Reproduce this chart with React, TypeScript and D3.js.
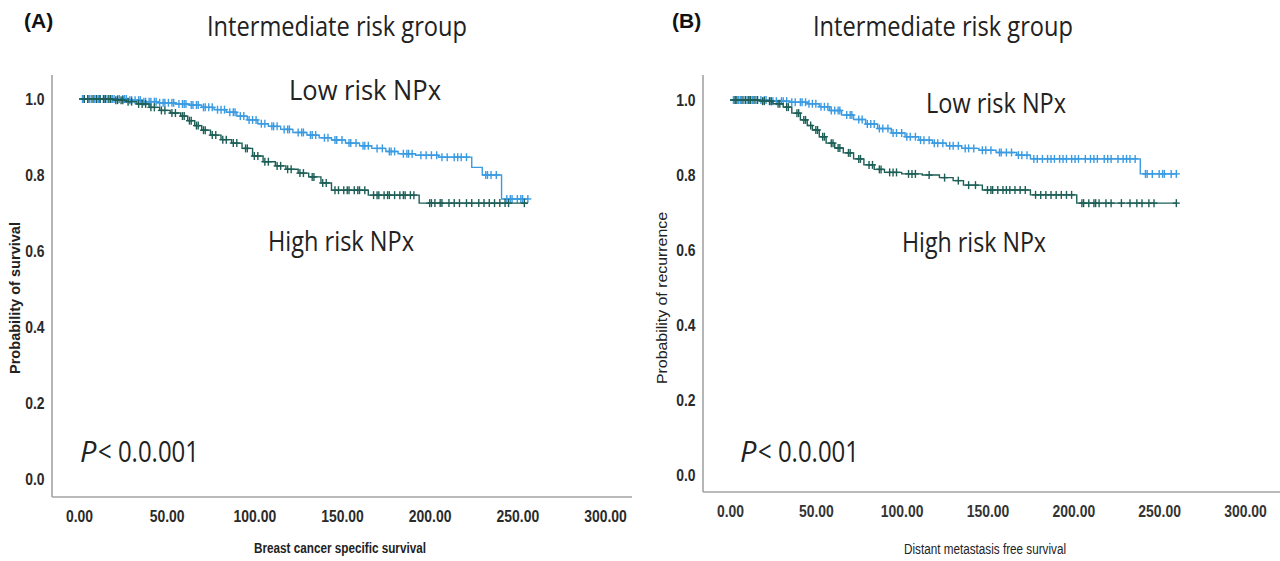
import React, { useEffect, useRef } from "react";
import * as d3 from "d3";

const xTicks = [0, 50, 100, 150, 200, 250, 300];
const yTicks = [0, 0.2, 0.4, 0.6, 0.8, 1.0];

// (A) breast cancer specific survival
const aLowTimes = [0, 28, 36, 45, 55, 63, 70, 77, 84, 90, 96, 102, 108, 115, 122, 130, 137, 144, 152, 160, 167, 175, 182, 192, 205, 224, 230, 241];
const aLowSurv = [1.0, 0.997, 0.993, 0.99, 0.987, 0.984, 0.978, 0.972, 0.965, 0.955, 0.945, 0.935, 0.928, 0.92, 0.912, 0.905, 0.898, 0.892, 0.884, 0.877, 0.87, 0.862, 0.856, 0.852, 0.847, 0.82, 0.80, 0.737];
const aLowCensor = [2, 3, 5, 6, 7, 9, 10, 11, 12, 14, 15, 16, 18, 19, 20, 22, 23, 25, 26, 27, 29, 30, 32, 34, 35, 37, 38, 40, 41, 43, 44, 46, 48, 49, 51, 53, 54, 57, 59, 60, 61, 64, 65, 67, 68, 71, 72, 74, 76, 79, 81, 83, 86, 88, 89, 92, 94, 97, 99, 101, 104, 106, 110, 111, 113, 117, 119, 120, 125, 127, 128, 132, 133, 135, 140, 142, 146, 147, 150, 154, 155, 158, 162, 163, 165, 170, 173, 177, 178, 180, 185, 187, 188, 190, 195, 198, 201, 204, 207, 210, 214, 216, 218, 221, 232, 233, 235, 238, 244, 246, 247, 250, 252, 253, 256];
const aLowEnd = 256;
const aHighTimes = [0, 20, 27, 33, 40, 46, 52, 58, 62, 66, 70, 75, 81, 87, 93, 99, 105, 112, 118, 125, 131, 138, 144, 165, 194];
const aHighSurv = [1.0, 0.997, 0.993, 0.987, 0.978, 0.97, 0.963, 0.955, 0.943, 0.93, 0.918, 0.905, 0.893, 0.884, 0.87, 0.85, 0.835, 0.824, 0.815, 0.805, 0.795, 0.779, 0.76, 0.747, 0.726];
const aHighCensor = [3, 5, 8, 10, 12, 14, 15, 17, 18, 21, 22, 24, 25, 28, 30, 34, 36, 38, 41, 43, 47, 49, 53, 55, 59, 60, 63, 64, 67, 68, 71, 72, 76, 78, 82, 84, 88, 90, 95, 96, 100, 102, 106, 108, 113, 115, 119, 121, 126, 128, 133, 134, 139, 141, 146, 148, 151, 153, 154, 157, 159, 160, 163, 168, 170, 171, 174, 176, 177, 180, 183, 185, 186, 189, 191, 200, 201, 203, 206, 207, 211, 214, 217, 221, 224, 228, 231, 234, 237, 240, 243, 245, 254];
const aHighEnd = 256;

// (B) distant metastasis free survival
const bLowTimes = [0, 22, 35, 45, 52, 58, 65, 72, 79, 86, 94, 102, 110, 118, 126, 135, 145, 155, 167, 175, 239];
const bLowSurv = [1.0, 0.997, 0.994, 0.99, 0.982, 0.972, 0.96, 0.948, 0.936, 0.924, 0.912, 0.902, 0.893, 0.885, 0.878, 0.871, 0.866, 0.86, 0.853, 0.843, 0.803];
const bLowCensor = [2, 3, 5, 6, 8, 10, 11, 13, 15, 16, 18, 20, 21, 24, 25, 27, 30, 31, 33, 36, 38, 41, 42, 44, 46, 48, 50, 53, 55, 57, 59, 61, 63, 64, 68, 70, 71, 75, 77, 80, 82, 84, 87, 89, 92, 95, 97, 100, 103, 105, 108, 111, 113, 116, 119, 121, 124, 128, 130, 133, 137, 139, 142, 147, 149, 152, 157, 158, 161, 164, 168, 170, 173, 177, 179, 182, 185, 187, 189, 192, 194, 196, 199, 201, 203, 207, 210, 212, 214, 218, 220, 222, 226, 229, 231, 233, 236, 242, 243, 246, 250, 252, 253, 257, 260];
const bLowEnd = 260;
const bHighTimes = [0, 17, 25, 31, 36, 41, 45, 48, 52, 56, 61, 66, 72, 78, 84, 90, 100, 112, 122, 130, 136, 147, 175, 202];
const bHighSurv = [1.0, 0.997, 0.99, 0.981, 0.965, 0.947, 0.932, 0.92, 0.902, 0.885, 0.872, 0.859, 0.843, 0.827, 0.815, 0.807, 0.803, 0.80, 0.793, 0.785, 0.773, 0.76, 0.747, 0.725];
const bHighCensor = [3, 4, 7, 9, 11, 12, 14, 16, 19, 20, 23, 24, 28, 29, 33, 34, 39, 40, 43, 44, 47, 50, 51, 54, 55, 59, 60, 63, 64, 69, 70, 75, 76, 81, 83, 87, 88, 93, 95, 97, 104, 106, 108, 116, 125, 133, 139, 143, 150, 152, 153, 156, 159, 161, 163, 166, 169, 172, 178, 181, 184, 187, 190, 193, 196, 199, 205, 206, 209, 212, 213, 215, 219, 222, 228, 233, 237, 240, 244, 247, 260];
const bHighEnd = 260;

const LOW_COLOR = "#3a9be2";
const HIGH_COLOR = "#1d5f57";
const AXIS_COLOR = "#a3a3a3";
const ARIAL = "'Liberation Sans', Arial, sans-serif";
const HUMAN = "'Open Sans', 'Noto Sans', sans-serif";
const NARROW_SCALE = 0.82;

const Panel = ({ cfg }) => {
  const gRef = useRef();

  useEffect(() => {
    const g = d3.select(gRef.current);
    g.selectAll("*").remove();

    const x = d3.scaleLinear().domain([0, 300]).range(cfg.xRange);
    const y = d3.scaleLinear().domain([0, 1]).range(cfg.yRange);

    // axis lines
    g.append("line")
      .attr("x1", cfg.axisLeft).attr("x2", cfg.axisLeft)
      .attr("y1", cfg.axisTop).attr("y2", cfg.axisBottom)
      .attr("stroke", AXIS_COLOR).attr("stroke-width", 1.6);
    g.append("line")
      .attr("x1", cfg.axisLeft).attr("x2", cfg.axisRight)
      .attr("y1", cfg.axisBottom).attr("y2", cfg.axisBottom)
      .attr("stroke", AXIS_COLOR).attr("stroke-width", 1.6);

    const xAxis = g.append("g")
      .attr("transform", `translate(0, ${cfg.axisBottom + 10})`)
      .call(d3.axisBottom(x).tickValues(xTicks).tickSize(0).tickFormat(d3.format(".2f")));
    xAxis.select(".domain").remove();
    xAxis.selectAll("text")
      .attr("font-family", ARIAL).attr("font-size", 17)
      .attr("font-weight", "bold")
      .attr("fill", cfg.boldLabels ? "#2a2a2a" : "#333")
      .attr("transform", `scale(${NARROW_SCALE},1)`);

    const yAxis = g.append("g")
      .attr("transform", `translate(${cfg.axisLeft - 5}, 0)`)
      .call(d3.axisLeft(y).tickValues(yTicks).tickSize(0).tickFormat(d3.format(".1f")));
    yAxis.select(".domain").remove();
    yAxis.selectAll("text")
      .attr("font-family", ARIAL).attr("font-size", 17)
      .attr("font-weight", "bold")
      .attr("fill", "#2a2a2a")
      .attr("transform", `scale(${NARROW_SCALE},1)`);

    const line = d3.line()
      .x((d) => x(d[0]))
      .y((d) => y(d[1]))
      .curve(d3.curveStepAfter);

    const drawGroup = (times, surv, censor, end, color) => {
      const pts = times.map((t, i) => [t, surv[i]]);
      pts.push([end, surv[surv.length - 1]]);
      g.append("path")
        .datum(pts)
        .attr("d", line)
        .attr("fill", "none")
        .attr("stroke", color)
        .attr("stroke-width", 1.4);
      const sAt = (t) => surv[Math.max(0, d3.bisectRight(times, t) - 1)];
      const marks = g.append("g").attr("stroke", color).attr("stroke-width", 1.4);
      censor.forEach((t) => {
        const cx = x(t);
        const cy = y(sAt(t));
        marks.append("line").attr("x1", cx).attr("x2", cx).attr("y1", cy - 4).attr("y2", cy + 4);
        marks.append("line").attr("x1", cx - 3.5).attr("x2", cx + 3.5).attr("y1", cy).attr("y2", cy);
      });
    };

    drawGroup(cfg.lowTimes, cfg.lowSurv, cfg.lowCensor, cfg.lowEnd, LOW_COLOR);
    drawGroup(cfg.highTimes, cfg.highSurv, cfg.highCensor, cfg.highEnd, HIGH_COLOR);
  }, [cfg]);

  const t = cfg.text;
  return (
    <g>
      <text x={t.tag[0]} y={t.tag[1]} fontFamily={ARIAL} fontWeight="bold" fontSize={21} fill="#111">
        {cfg.tag}
      </text>
      <text x={t.title[0]} y={t.title[1]} fontFamily={HUMAN} fontSize={28} fill="#222" textLength={t.title[2]} lengthAdjust="spacingAndGlyphs">
        Intermediate risk group
      </text>
      <text x={t.low[0]} y={t.low[1]} fontFamily={HUMAN} fontSize={28} fill="#222" textLength={t.low[2]} lengthAdjust="spacingAndGlyphs">
        Low risk NPx
      </text>
      <text x={t.high[0]} y={t.high[1]} fontFamily={HUMAN} fontSize={28} fill="#222" textLength={t.high[2]} lengthAdjust="spacingAndGlyphs">
        High risk NPx
      </text>
      <text x={t.p[0]} y={t.p[1]} fontFamily={HUMAN} fontSize={29} fontStyle="italic" fill="#222">
        P
      </text>
      <text x={t.p[0] + 18} y={t.p[1]} fontFamily={HUMAN} fontSize={29} fill="#222" textLength={t.p[2]} lengthAdjust="spacingAndGlyphs">
        &lt; 0.0.001
      </text>
      <text x={t.xTitle[0]} y={t.xTitle[1]} fontFamily={ARIAL} fontSize={14} fontWeight={cfg.boldLabels ? "bold" : "normal"} fill="#222" textLength={t.xTitle[2]} lengthAdjust="spacingAndGlyphs">
        {cfg.xTitle}
      </text>
      <text transform={`translate(${t.yTitle[0]}, ${t.yTitle[1]}) rotate(-90)`} fontFamily={ARIAL} fontSize={14} fontWeight={cfg.boldLabels ? "bold" : "normal"} fill="#222" textLength={t.yTitle[2]} lengthAdjust="spacingAndGlyphs">
        {cfg.yTitle}
      </text>
      <g ref={gRef}></g>
    </g>
  );
};

const panelA = {
  tag: "(A)",
  xTitle: "Breast cancer specific survival",
  yTitle: "Probability of survival",
  boldLabels: true,
  xRange: [79, 605],
  yRange: [479, 99],
  axisLeft: 52,
  axisRight: 632,
  axisTop: 75,
  axisBottom: 497,
  lowTimes: aLowTimes, lowSurv: aLowSurv, lowCensor: aLowCensor, lowEnd: aLowEnd,
  highTimes: aHighTimes, highSurv: aHighSurv, highCensor: aHighCensor, highEnd: aHighEnd,
  text: {
    tag: [24, 28],
    title: [207, 36, 260],
    low: [289, 100, 152],
    high: [268, 251, 146],
    p: [80, 462, 101],
    xTitle: [254, 553, 172],
    yTitle: [20, 374, 152],
  },
};

const panelB = {
  tag: "(B)",
  xTitle: "Distant metastasis free survival",
  yTitle: "Probability of recurrence",
  boldLabels: false,
  xRange: [730, 1245],
  yRange: [475, 100],
  axisLeft: 703,
  axisRight: 1280,
  axisTop: 75,
  axisBottom: 492,
  lowTimes: bLowTimes, lowSurv: bLowSurv, lowCensor: bLowCensor, lowEnd: bLowEnd,
  highTimes: bHighTimes, highSurv: bHighSurv, highCensor: bHighCensor, highEnd: bHighEnd,
  text: {
    tag: [672, 28],
    title: [813, 36, 260],
    low: [926, 113, 140],
    high: [902, 252, 144],
    p: [740, 462, 101],
    xTitle: [904, 554, 162],
    yTitle: [667, 384, 172],
  },
};

export default function App() {
  return (
    <svg width={1280} height={561} style={{ position: "absolute", left: 0, top: 0, background: "#fff" }}>
      <rect width={1280} height={561} fill="#fff" />
      <Panel cfg={panelA} />
      <Panel cfg={panelB} />
    </svg>
  );
}
